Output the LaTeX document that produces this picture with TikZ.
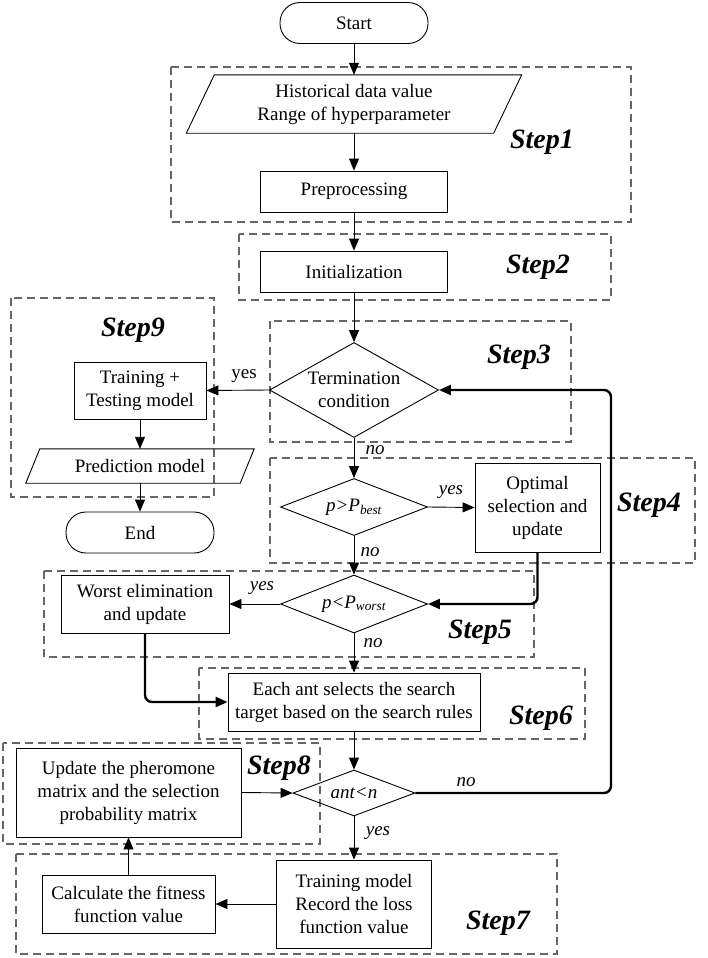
\documentclass[tikz,border=0pt]{standalone}
\usepackage{fontspec}
\setmainfont{Liberation Serif}
\usetikzlibrary{shapes.geometric,arrows.meta,calc}
\begin{document}
\begin{tikzpicture}[x=1pt,y=-1pt,
  every node/.style={font=\fontsize{19}{23}\selectfont},
  box/.style={draw, line width=0.9pt, rectangle, inner sep=0pt, align=center},
  termbox/.style={draw, line width=0.9pt, rectangle, rounded corners=20pt, inner sep=0pt},
  dia/.style={draw, line width=0.9pt, diamond, inner sep=0pt},
  stepframe/.style={draw=black!60, line width=1.1pt, dash pattern=on 8pt off 5pt},
  steplab/.style={font=\fontsize{28}{32}\selectfont\bfseries\itshape},
  conn/.style={line width=0.9pt, -{Triangle[length=12pt,width=10pt]}},
  loopc/.style={line width=2.4pt, rounded corners=7pt, -{Triangle[length=12pt,width=10pt]}},
  lab/.style={font=\fontsize{19}{23}\selectfont\itshape},
  plab/.style={font=\fontsize{19}{23}\selectfont},
]
\useasboundingbox (0,0) rectangle (708,958);

% dashed step frames
\draw[stepframe] (171,67) rectangle (631,222);
\draw[stepframe] (239,234) rectangle (611,300);
\draw[stepframe] (270,321) rectangle (571,442);
\draw[stepframe] (270,458) rectangle (695,563);
\draw[stepframe] (44,571) rectangle (534,657);
\draw[stepframe] (199,668) rectangle (585,739);
\draw[stepframe] (16,854) rectangle (557,954);
\draw[stepframe] (3,743) rectangle (320,844);
\draw[stepframe] (11,298) rectangle (214,497);

\node[steplab] (s1) at (542,142) {Step1};
\node[steplab] (s2) at (538,267) {Step2};
\node[steplab] (s3) at (519,357) {Step3};
\node[steplab] (s4) at (649,505) {Step4};
\node[steplab] (s5) at (480,632) {Step5};
\node[steplab] (s6) at (541,718) {Step6};
\node[steplab] (s7) at (498,923) {Step7};
\node[steplab] (s8) at (279,768) {Step8};
\node[steplab] (s9) at (133,330) {Step9};

% main column
\node[termbox, minimum width=148pt, minimum height=41pt] (start) at (354,23) {Start};
\node[align=center, inner sep=0pt, minimum width=307pt, minimum height=58pt] (hist) at (354,104) {Historical data value\\Range of hyperparameter};
\draw[line width=0.9pt] ([xshift=-14pt]hist.south west) -- ([xshift=-14pt]hist.south east) -- ([xshift=14pt]hist.north east) -- ([xshift=14pt]hist.north west) -- cycle;
\node[box, minimum width=187pt, minimum height=41pt] (pre) at (354,191.5) {Preprocessing};
\node[box, minimum width=187pt, minimum height=41pt] (init) at (354,271.5) {Initialization};
\node[dia, minimum width=169pt, minimum height=95pt, label={[align=center]center:Termination\\condition}] (term) at (354,390) {};
\node[dia, minimum width=147pt, minimum height=57pt, label={[lab]center:{p>P\textsubscript{best}}}] (pb) at (354,507) {};
\node[box, minimum width=125pt, minimum height=89pt] (opt) at (537.5,507.5) {Optimal\\selection and\\update};
\node[dia, minimum width=147pt, minimum height=58pt, label={[lab]center:{p<P\textsubscript{worst}}}] (pw) at (354,604) {};
\node[box, minimum width=168pt, minimum height=58pt] (worst) at (145,604) {Worst elimination\\and update};
\node[box, minimum width=252pt, minimum height=58pt] (each) at (354,702) {Each ant selects the search\\target based on the search rules};
\node[dia, minimum width=122pt, minimum height=46pt, label={[lab]center:{ant<n}}] (antn) at (354,793) {};
\node[box, minimum width=225pt, minimum height=89pt] (upd) at (128.5,792.5) {Update the pheromone\\matrix and the selection\\probability matrix};
\node[box, minimum width=155pt, minimum height=88pt] (train) at (354,904) {Training model\\Record the loss\\function value};
\node[box, minimum width=173pt, minimum height=58pt] (calc) at (128.5,904) {Calculate the fitness\\function value};

% step 9 column
\node[box, minimum width=132pt, minimum height=57pt] (tt) at (140,390.5) {Training +\\Testing model};
\node[inner sep=0pt, minimum width=214pt, minimum height=34pt] (pred) at (140,466) {Prediction model};
\draw[line width=0.9pt] ([xshift=-7pt]pred.south west) -- ([xshift=-7pt]pred.south east) -- ([xshift=7pt]pred.north east) -- ([xshift=7pt]pred.north west) -- cycle;
\node[termbox, minimum width=148pt, minimum height=41pt] (end) at (140,532.5) {End};

\coordinate (rt) at (611,793);

% connectors
\draw[conn] (start) -- (hist);
\draw[conn] (hist) -- (pre);
\draw[conn] (pre) -- (init);
\draw[conn] (init) -- (term);
\draw[conn] (term.west) -- (tt.east);
\draw[conn] (tt) -- (pred);
\draw[conn] (pred) -- (end);
\draw[conn] (term.south) -- (pb.north);
\draw[conn] (pb.east) -- (opt.west);
\draw[conn] (pb.south) -- (pw.north);
\draw[loopc] (opt.south) |- (pw.east);
\draw[conn] (pw.west) -- (worst.east);
\draw[conn] (pw.south) -- (each.north);
\draw[loopc] (worst.south) |- (each.west);
\draw[conn] (each.south) -- (antn.north);
\draw[loopc] (antn.east) -- (rt) |- (term.east);
\draw[conn] (antn.south) -- (train.north);
\draw[conn] (train.west) -- (calc.east);
\draw[conn] (calc.north) -- (upd.south);
\draw[conn] (upd.east) -- (antn.west);

% branch labels
\node[plab] (l1) at (244,376) {yes};
\node[lab] (l2) at (375,450) {no};
\node[lab] (l3) at (451,492) {yes};
\node[lab] (l4) at (370,552) {no};
\node[lab] (l5) at (262,588) {yes};
\node[lab] (l6) at (373,643) {no};
\node[lab] (l7) at (466,782) {no};
\node[lab] (l8) at (378,833) {yes};
\end{tikzpicture}
\end{document}
